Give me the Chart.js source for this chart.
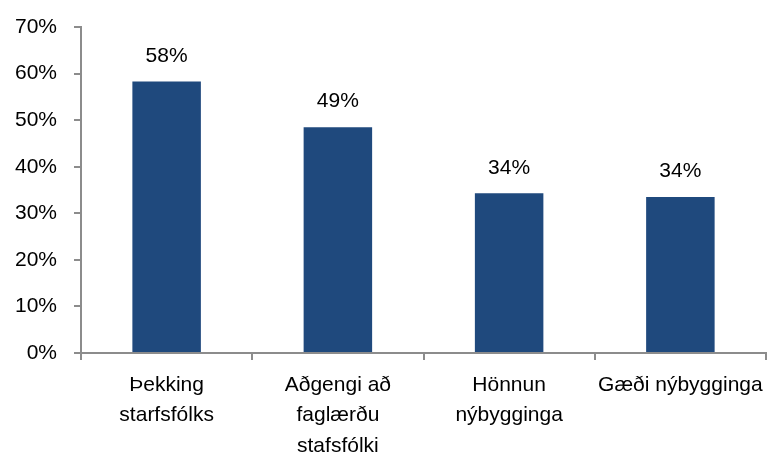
<!DOCTYPE html>
<html>
<head>
<meta charset="utf-8">
<script src="https://cdn.jsdelivr.net/npm/chart.js@4"></script>
<style>
  html, body { margin: 0; padding: 0; background: #fff; }
  #wrap { width: 778px; height: 462px; }
</style>
</head>
<body>
<div id="wrap"><canvas id="chart" width="778" height="462"></canvas></div>
<script>
// Données
const categories = [
  ['Þekking', 'starfsfólks'],
  ['Aðgengi að', 'faglærðu', 'stafsfólki'],
  ['Hönnun', 'nýbygginga'],
  'Gæði nýbygginga'
];
const values = [58.3, 48.5, 34.3, 33.5];
const valueLabels = ['58%', '49%', '34%', '34%'];
const yTicks = [0, 10, 20, 30, 40, 50, 60, 70];

const axisColor = '#8c8c8c';
const fontFamily = '"Liberation Sans", Arial, sans-serif';

// Étiquettes au-dessus des barres
const barLabels = {
  id: 'barLabels',
  afterDatasetsDraw(chart) {
    const ctx = chart.ctx;
    const meta = chart.getDatasetMeta(0);
    ctx.save();
    ctx.font = '21px ' + fontFamily;
    ctx.fillStyle = '#000';
    ctx.textAlign = 'center';
    ctx.textBaseline = 'bottom';
    meta.data.forEach((bar, i) => {
      ctx.fillText(valueLabels[i], bar.x, bar.y - 15);
    });
    ctx.restore();
  }
};

new Chart(document.getElementById('chart'), {
  type: 'bar',
  data: {
    labels: categories,
    datasets: [{
      data: values,
      backgroundColor: '#1F497D',
      borderWidth: 0,
      categoryPercentage: 1,
      barPercentage: 0.4
    }]
  },
  options: {
    responsive: false,
    animation: false,
    layout: { padding: { top: 27, right: 12, left: 0, bottom: 0 } },
    plugins: {
      legend: { display: false },
      tooltip: { enabled: false }
    },
    scales: {
      x: {
        offset: true,
        grid: {
          offset: true,
          drawOnChartArea: false,
          drawTicks: true,
          tickLength: 7,
          color: axisColor,
          lineWidth: 2
        },
        border: { color: axisColor, width: 2 },
        ticks: {
          color: '#000',
          padding: 10,
          maxRotation: 0,
          autoSkip: false,
          font: { family: fontFamily, size: 21, lineHeight: 1.45 }
        },
        afterFit(scale) { scale.height = 462 - 353; }
      },
      y: {
        min: 0,
        max: 70,
        afterBuildTicks(scale) { scale.ticks = yTicks.map(v => ({ value: v })); },
        grid: {
          drawOnChartArea: false,
          drawTicks: true,
          tickLength: 7,
          color: axisColor,
          lineWidth: 2
        },
        border: { color: axisColor, width: 2 },
        ticks: {
          color: '#000',
          padding: 17,
          font: { family: fontFamily, size: 21 },
          callback: v => v + '%'
        },
        afterFit(scale) {
          scale.width = 81;
          scale.paddingTop = 0;
        }
      }
    }
  },
  plugins: [barLabels]
});
</script>
</body>
</html>
